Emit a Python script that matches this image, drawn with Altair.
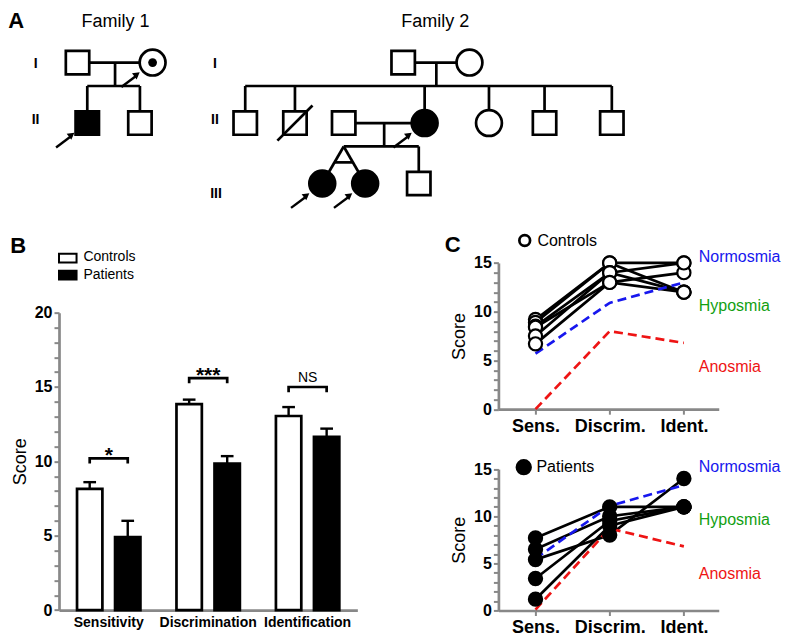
import altair as alt
import pandas as pd

S = 0.975
FONT = "Liberation Sans"
NOVIEW = alt.ViewBackground(strokeWidth=0, stroke="transparent", fill="transparent")


def P(v):
    return round(v * S, 2)


# ---------------- Panel A: pedigrees ----------------
ped_id = ["F1-I1", "F1-I2", "F1-II1", "F1-II2",
          "F2-I1", "F2-I2", "F2-II1", "F2-II2", "F2-II3", "F2-II4", "F2-II5", "F2-II6", "F2-II7",
          "F2-III1", "F2-III2", "F2-III3"]
ped_gen = [1, 1, 2, 2, 1, 1, 2, 2, 2, 2, 2, 2, 2, 3, 3, 3]
ped_slot = [7.1, 14.8, 8.1, 13.5, 40.5, 47.3, 24.3, 29.4, 34.4, 42.7, 49.3, 55.0, 61.9, 32.2, 36.6, 42.1]
ped_sex = ["M", "F", "M", "M", "M", "F", "M", "M", "M", "F", "F", "M", "M", "F", "F", "M"]
ped_affected = [0, 0, 1, 0, 0, 0, 0, 0, 0, 1, 0, 0, 0, 1, 1, 0]
ped_carrier = [0, 1, 0, 0, 0, 0, 0, 0, 0, 0, 0, 0, 0, 0, 0, 0]
ped_deceased = [0, 0, 0, 0, 0, 0, 0, 1, 0, 0, 0, 0, 0, 0, 0, 0]
ped_proband = [0, 1, 1, 0, 0, 0, 0, 0, 0, 1, 0, 0, 0, 1, 1, 0]
ped_couples = [("F1-I1", "F1-I2", ["F1-II1", "F1-II2"]),
               ("F2-I1", "F2-I2", ["F2-II1", "F2-II2", "F2-II4", "F2-II5", "F2-II6", "F2-II7"]),
               ("F2-II3", "F2-II4", [("F2-III1", "F2-III2"), "F2-III3"])]
family_names = ["Family 1", "Family 2"]
family_center = [11.0, 43.8]
gen_label_text = ["I", "II", "I", "II", "III"]
gen_label_x = [2.8, 2.8, 21.2, 21.2, 21.3]
gen_label_y = [1.03, 1.95, 1.03, 1.95, 3.17]

# ---------------- Panel B: bar chart ----------------
tests = ["Sensitivity", "Discrimination", "Identification"]
groups = ["Controls", "Patients"]
ctrl_mean = [8.15, 13.85, 13.05]
ctrl_sem = [0.45, 0.30, 0.60]
pat_mean = [4.90, 9.85, 11.65]
pat_sem = [1.10, 0.50, 0.55]
sig_level = [10.2, 15.6, 15.0]
sig_label = ["*", "***", "NS"]

# ---------------- Panel C: individual scores ----------------
c_tests = ["Sens.", "Discrim.", "Ident."]
ctrl_sens = [9.2, 8.9, 8.5, 8.4, 7.5, 6.7]
ctrl_disc = [15, 15, 14, 13, 14, 13]
ctrl_iden = [15, 12, 12, 14, 15, 12]
pat_sens = [7.7, 6.5, 5.4, 3.4, 1.2]
pat_disc = [11, 10, 8, 9.5, 9]
pat_iden = [11, 11, 14, 11, 11]
thr_names = ["Normosmia", "Hyposmia", "Anosmia"]
thr_colors = ["#1717ee", "#12a012", "#ee1414"]
top_norm = [5.7, 10.9, 13.0]
top_anos = [0.0, 8.0, 6.8]
bot_norm = [5.5, 11.1, 13.3]
bot_anos = [0.1, 8.7, 6.8]
top_label_y = [15.6, 10.6, 4.3]
bot_label_y = [15.2, 9.6, 3.9]

# =====================================================
# Panel A
GEN_PX, UNIT_PX, Y0 = 62.0, 10.0, 56.0
A_W, A_H = 738, 218
x_lo = 5.2
y_top = 1 - Y0 / GEN_PX
A_xs = alt.Scale(domain=[x_lo, x_lo + A_W / UNIT_PX], nice=False, zero=False)
A_ys = alt.Scale(domain=[y_top, y_top + A_H / GEN_PX], nice=False, zero=False, reverse=True)
SIB = 24 / GEN_PX

idx = {k: i for i, k in enumerate(ped_id)}
segs = []
for fa, mo, kids in ped_couples:
    xa, xb = ped_slot[idx[fa]], ped_slot[idx[mo]]
    g = ped_gen[idx[fa]]
    segs.append((xa, xb, g, g))
    mid = (xa + xb) / 2
    ys = g + SIB
    segs.append((mid, mid, g, ys))
    anchors = [mid]
    for kid in kids:
        if isinstance(kid, tuple):
            xs = [ped_slot[idx[k]] for k in kid]
            apex = sum(xs) / len(xs)
            anchors.append(apex)
            gk = ped_gen[idx[kid[0]]]
            for xk in xs:
                segs.append((apex, xk, ys, gk))
            f = 0.43
            yb = ys + f * (gk - ys)
            segs.append((apex + f * (xs[0] - apex), apex + f * (xs[-1] - apex), yb, yb))
        else:
            xk = ped_slot[idx[kid]]
            anchors.append(xk)
            segs.append((xk, xk, ys, ped_gen[idx[kid]]))
    segs.append((min(anchors), max(anchors), ys, ys))
seg_df = pd.DataFrame(segs, columns=["x1", "x2", "y1", "y2"])

ped_df = pd.DataFrame({"id": ped_id, "gen": ped_gen, "slot": ped_slot, "sex": ped_sex,
                       "aff": ped_affected, "carrier": ped_carrier, "dead": ped_deceased,
                       "proband": ped_proband})


def ax(field):
    return alt.X(field, type="quantitative", scale=A_xs, axis=None)


def ay(field):
    return alt.Y(field, type="quantitative", scale=A_ys, axis=None)


LW = 2.7
lines_A = alt.Chart(seg_df).mark_rule(color="black", strokeWidth=LW).encode(
    x=ax("x1"), x2="x2", y=ay("y1"), y2="y2")

fill_scale = alt.Scale(domain=[0, 1], range=["white", "black"])
squares = alt.Chart(ped_df).transform_filter("datum.sex == 'M'").mark_point(
    shape="square", filled=True, size=P(24) ** 2, stroke="black", strokeWidth=LW, opacity=1
).encode(x=ax("slot"), y=ay("gen"), fill=alt.Fill("aff:O", scale=fill_scale, legend=None))
circles = alt.Chart(ped_df).transform_filter("datum.sex == 'F'").mark_point(
    shape="circle", filled=True, size=P(26.5) ** 2, stroke="black", strokeWidth=LW, opacity=1
).encode(x=ax("slot"), y=ay("gen"), fill=alt.Fill("aff:O", scale=fill_scale, legend=None))
dots = alt.Chart(ped_df).transform_filter("datum.carrier == 1").mark_point(
    shape="circle", filled=True, size=P(9) ** 2, color="black", opacity=1
).encode(x=ax("slot"), y=ay("gen"))
slash = alt.Chart(ped_df).transform_filter("datum.dead == 1").transform_calculate(
    sx1="datum.slot - 1.8", sx2="datum.slot + 1.8",
    sy1="datum.gen + 18/62", sy2="datum.gen - 18/62"
).mark_rule(color="black", strokeWidth=LW).encode(x=ax("sx1"), x2="sx2", y=ay("sy1"), y2="sy2")
arrow_line = alt.Chart(ped_df).transform_filter("datum.proband == 1").transform_calculate(
    ax1="datum.slot - 3.2", ax2="datum.slot - 1.6",
    ay1="datum.gen + 25/62", ay2="datum.gen + 13/62"
).mark_rule(color="black", strokeWidth=2.4).encode(x=ax("ax1"), x2="ax2", y=ay("ay1"), y2="ay2")
arrow_head = alt.Chart(ped_df).transform_filter("datum.proband == 1").transform_calculate(
    hx="datum.slot - 1.6", hy="datum.gen + 12/62"
).mark_point(shape="triangle-up", filled=True, color="black", size=60, angle=53, opacity=1).encode(
    x=ax("hx"), y=ay("hy"))

gl_df = pd.DataFrame({"x": gen_label_x, "y": gen_label_y, "t": gen_label_text})
gen_text = alt.Chart(gl_df).mark_text(fontSize=14, fontWeight="bold", font=FONT, align="center",
                                      baseline="middle", color="black").encode(
    x=ax("x"), y=ay("y"), text="t:N")
fam_df = pd.DataFrame({"x": family_center, "y": [y_top + 14 / GEN_PX] * 2, "t": family_names})
fam_text = alt.Chart(fam_df).mark_text(fontSize=18, font=FONT, align="center", baseline="middle",
                                       color="black").encode(x=ax("x"), y=ay("y"), text="t:N")
letterA = alt.Chart(pd.DataFrame({"t": ["A"]})).mark_text(
    fontSize=22, fontWeight="bold", font=FONT, align="left", baseline="top", color="black"
).encode(x=alt.value(P(-52)), y=alt.value(P(3)), text="t:N")

panelA = alt.layer(lines_A, squares, circles, dots, slash, arrow_line, arrow_head,
                   gen_text, fam_text, letterA).properties(width=P(A_W), height=P(A_H), view=NOVIEW)

# =====================================================
# Panel B
B_W, B_H = 306, 385
b_df = pd.DataFrame({"test": tests * 2, "group": ["Controls"] * 3 + ["Patients"] * 3,
                     "mean": ctrl_mean + pat_mean, "sem": ctrl_sem + pat_sem})
b_df["err"] = b_df["mean"] + b_df["sem"]

yB_scale = alt.Scale(domain=[0, 20], range=[P(385), P(80)], nice=False)
yB_axis = alt.Axis(values=list(range(21)), labelExpr="datum.value % 5 == 0 ? datum.label : ''",
                   tickSize=5, tickWidth=2, domainWidth=2.7, labelFontSize=16, labelFontWeight="bold",
                   title="Score", titleFontSize=18, titleFontWeight="normal", titlePadding=5,
                   labelPadding=2, grid=False)
xB = alt.X("test:N", sort=tests, scale=alt.Scale(paddingInner=0, paddingOuter=0),
           axis=alt.Axis(title=None, labelAngle=0, ticks=False, labelFontSize=14,
                         labelFontWeight="bold", labelPadding=5, domainWidth=2.7))
xoffB = alt.XOffset("group:N", sort=groups, scale=alt.Scale(paddingInner=0.333, paddingOuter=0.474))


def yB(field):
    return alt.Y(field, type="quantitative", scale=yB_scale, axis=yB_axis)


bars = alt.Chart(b_df).mark_bar(stroke="black", strokeWidth=2.7).encode(
    x=xB, xOffset=xoffB, y=yB("mean"),
    fill=alt.Fill("group:N", scale=alt.Scale(domain=groups, range=["white", "black"]), legend=None))
err_rule = alt.Chart(b_df).mark_rule(color="black", strokeWidth=2.4).encode(
    x=xB, xOffset=xoffB, y=yB("mean"), y2="err")
err_cap = alt.Chart(b_df).mark_tick(color="black", thickness=2.4, size=P(13), opacity=1).encode(
    x=xB, xOffset=xoffB, y=yB("err"))

br_rows = []
for t, lv in zip(tests, sig_level):
    br_rows += [(t, "Controls", lv - 0.35, 0), (t, "Controls", lv, 1),
                (t, "Patients", lv, 2), (t, "Patients", lv - 0.35, 3)]
br_df = pd.DataFrame(br_rows, columns=["test", "group", "yv", "k"])
brackets = alt.Chart(br_df).mark_line(color="black", strokeWidth=2.7).encode(
    x=xB, xOffset=xoffB, y=yB("yv"), detail="test:N", order="k:Q")
sig_df = pd.DataFrame({"test": tests, "lvl": sig_level, "lab": sig_label})
stars = alt.Chart(sig_df).transform_filter("datum.lab != 'NS'").mark_text(
    fontSize=21, fontWeight="bold", font=FONT, baseline="alphabetic", dy=P(4), color="black"
).encode(x=xB, y=yB("lvl"), text="lab:N")
ns = alt.Chart(sig_df).transform_filter("datum.lab == 'NS'").mark_text(
    fontSize=14, font=FONT, baseline="alphabetic", dy=P(-5), color="black"
).encode(x=xB, y=yB("lvl"), text="lab:N")

legB = []
for i, g in enumerate(groups):
    gdf = pd.DataFrame({"group": [g]})
    legB.append(alt.Chart(gdf).mark_rect(stroke="black", strokeWidth=2,
                                         fill="white" if i == 0 else "black").encode(
        x=alt.value(P(0)), x2=alt.value(P(18)),
        y=alt.value(P(19.5 + 17.5 * i)), y2=alt.value(P(28.5 + 17.5 * i))))
    legB.append(alt.Chart(gdf).mark_text(fontSize=14, font=FONT, align="left", baseline="middle",
                                         color="black").encode(
        x=alt.value(P(25)), y=alt.value(P(23 + 18 * i)), text="group:N"))
letterB = alt.Chart(pd.DataFrame({"t": ["B"]})).mark_text(
    fontSize=22, fontWeight="bold", font=FONT, align="left", baseline="top", color="black"
).encode(x=alt.value(P(-50)), y=alt.value(P(1)), text="t:N")

panelB = alt.layer(bars, err_rule, err_cap, brackets, stars, ns, *legB, letterB).properties(
    width=P(B_W), height=P(B_H), view=NOVIEW)

# =====================================================
# Panel C
C_W = 288
xC_scale = alt.Scale(domain=[0.5, 3.47], range=[0, P(226)], nice=False, zero=False)
lab_expr = " : ".join(f"datum.value == {i + 1} ? '{t}'" for i, t in enumerate(c_tests[:-1]))
lab_expr += f" : '{c_tests[-1]}'"
xC_axis = alt.Axis(values=[1, 2, 3], labelExpr=lab_expr, tickSize=5, tickWidth=2, domainWidth=2.7,
                   labelFontSize=18, labelFontWeight="bold", labelPadding=3, title=None, grid=False)
color_scale = alt.Scale(domain=thr_names, range=thr_colors)


def c_panel(sens, disc, iden, norm, anos, label_y, H, y15, y0px, filled, leg_text, leg_pos,
            leg_size, letter):
    y_scale = alt.Scale(domain=[0, 15], range=[P(y0px), P(y15)], nice=False)
    y_axis = alt.Axis(values=list(range(16)), labelExpr="datum.value % 5 == 0 ? datum.label : ''",
                      tickSize=5, tickWidth=2, domainWidth=2.7, labelFontSize=16,
                      labelFontWeight="bold", title="Score", titleFontSize=18,
                      titleFontWeight="normal", titlePadding=5, labelPadding=2, grid=False)

    def xc(f):
        return alt.X(f, type="quantitative", scale=xC_scale, axis=xC_axis)

    def yc(f):
        return alt.Y(f, type="quantitative", scale=y_scale, axis=y_axis)

    rows = []
    for s in range(len(sens)):
        for t, v in zip([1, 2, 3], [sens[s], disc[s], iden[s]]):
            rows.append((s, t, v))
    sdf = pd.DataFrame(rows, columns=["subj", "t", "score"])
    trows = []
    for name, vals in [("Normosmia", norm), ("Anosmia", anos)]:
        for t, v in zip([1, 2, 3], vals):
            trows.append((name, t, v))
    tdf = pd.DataFrame(trows, columns=["name", "t", "score"])
    ldf = pd.DataFrame({"name": thr_names, "t": [3.2] * 3, "score": label_y})

    lines = alt.Chart(sdf).mark_line(color="black", strokeWidth=2.7).encode(
        x=xc("t"), y=yc("score"), detail="subj:N")
    thr = alt.Chart(tdf).mark_line(strokeWidth=2.7, strokeDash=[9, 5]).encode(
        x=xc("t"), y=yc("score"), detail="name:N",
        color=alt.Color("name:N", scale=color_scale, legend=None))
    pts = alt.Chart(sdf).mark_point(shape="circle", filled=True, size=P(13.5) ** 2,
                                    stroke="black", strokeWidth=2.2,
                                    fill="black" if filled else "white", opacity=1).encode(
        x=xc("t"), y=yc("score"))
    labs = alt.Chart(ldf).mark_text(fontSize=16, font=FONT, align="left", baseline="middle").encode(
        x=xc("t"), y=yc("score"), text="name:N",
        color=alt.Color("name:N", scale=color_scale, legend=None))
    one = pd.DataFrame({"t": [leg_text]})
    leg_pt = alt.Chart(one).mark_point(shape="circle", filled=True, size=P(leg_size) ** 2,
                                       stroke="black", strokeWidth=2.7,
                                       fill="black" if filled else "white", opacity=1).encode(
        x=alt.value(P(leg_pos[0])), y=alt.value(P(leg_pos[1])))
    leg_tx = alt.Chart(one).mark_text(fontSize=16, font=FONT, align="left", baseline="middle",
                                      color="black").encode(
        x=alt.value(P(leg_pos[0] + 13)), y=alt.value(P(leg_pos[1])), text="t:N")
    layers = [lines, thr, pts, labs, leg_pt, leg_tx]
    if letter:
        layers.append(alt.Chart(pd.DataFrame({"t": [letter]})).mark_text(
            fontSize=22, fontWeight="bold", font=FONT, align="left", baseline="top", color="black"
        ).encode(x=alt.value(P(-55)), y=alt.value(P(0)), text="t:N"))
    return alt.layer(*layers).properties(width=P(C_W), height=P(H), view=NOVIEW)


panelCt = c_panel(ctrl_sens, ctrl_disc, ctrl_iden, top_norm, top_anos, top_label_y,
                  179, 29, 179, False, "Controls", (27, 6), 11, "C")
panelCb = c_panel(pat_sens, pat_disc, pat_iden, bot_norm, bot_anos, bot_label_y,
                  157, 12, 157, True, "Patients", (26, 10), 14, None)

row2 = alt.hconcat(panelB, alt.vconcat(panelCt, panelCb, spacing=P(49), bounds="flush"),
                   spacing=P(144), bounds="flush")
chart = alt.vconcat(panelA, row2, spacing=P(14), bounds="flush").properties(padding=0)
chart = chart.configure_view(strokeWidth=0, stroke="transparent").configure_axis(
    labelFont=FONT, titleFont=FONT, labelColor="black", titleColor="black",
    domainColor="black", tickColor="black", grid=False
).configure(font=FONT)

chart.save("out.html", embed_options={"renderer": "svg", "actions": False})
